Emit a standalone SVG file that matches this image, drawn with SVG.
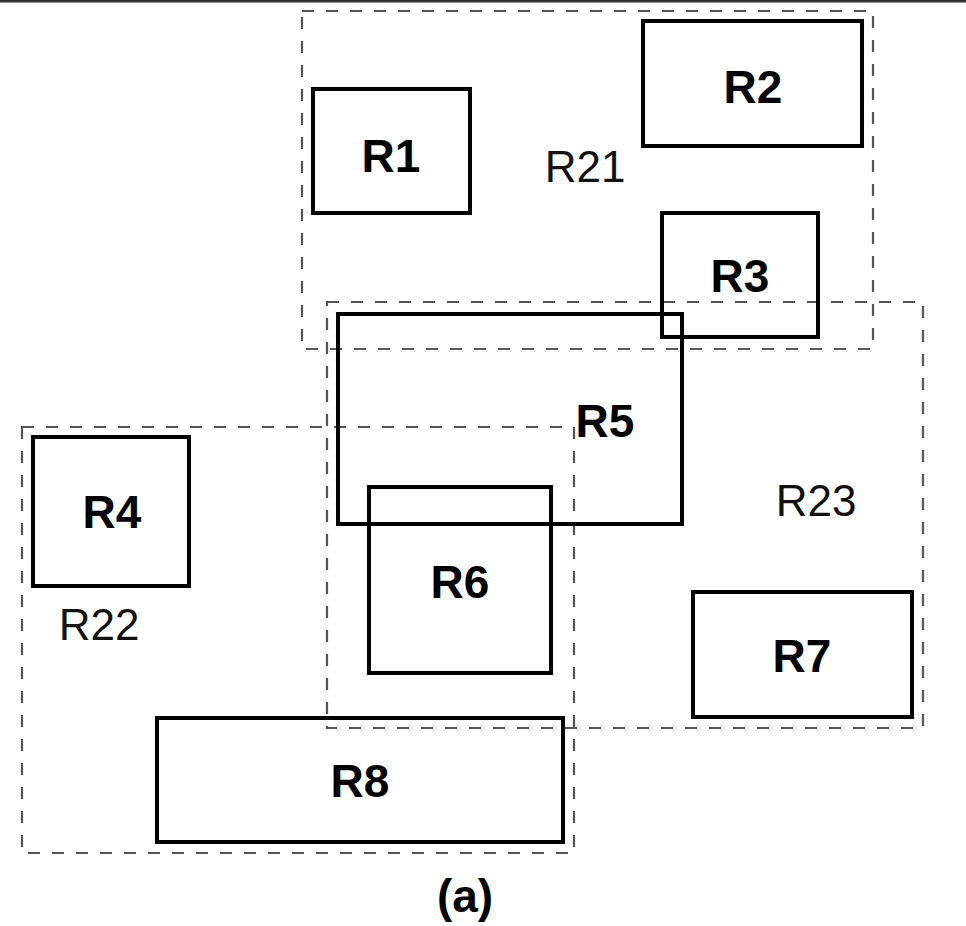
<svg xmlns="http://www.w3.org/2000/svg" width="966" height="926" viewBox="0 0 966 926">
<style>
.grp{fill:none;stroke:#555;stroke-width:2.2;stroke-dasharray:12 12}
.box{fill:none;stroke:#000;stroke-width:4}
.lb{font-family:"Liberation Sans",Arial,sans-serif;font-weight:bold;font-size:46px;fill:#000;text-anchor:middle}
.gl{font-family:"Liberation Sans",Arial,sans-serif;font-size:44px;fill:#111;text-anchor:middle}
</style>
<rect width="966" height="926" fill="#fff"/>
<line x1="0" y1="1" x2="966" y2="1" stroke="#333" stroke-width="3"/>
<g id="R21"><rect class="grp" x="302" y="11" width="571" height="338"/><text class="gl" x="585" y="182">R21</text></g>
<g id="R23"><rect class="grp" x="327" y="302" width="596" height="426"/><text class="gl" x="816" y="516">R23</text></g>
<g id="R22"><rect class="grp" x="22" y="427" width="552" height="426"/><text class="gl" x="99" y="640">R22</text></g>
<g id="R1"><rect class="box" x="313" y="89" width="157" height="124"/><text class="lb" x="391" y="172">R1</text></g>
<g id="R2"><rect class="box" x="643" y="21" width="219" height="125"/><text class="lb" x="753" y="103">R2</text></g>
<g id="R3"><rect class="box" x="662" y="213" width="156" height="124"/><text class="lb" x="740" y="292">R3</text></g>
<g id="R5"><rect class="box" x="338" y="314" width="344" height="210"/><text class="lb" x="605" y="437">R5</text></g>
<g id="R4"><rect class="box" x="33" y="437" width="156" height="149"/><text class="lb" x="112" y="528">R4</text></g>
<g id="R6"><rect class="box" x="369" y="487" width="182" height="186"/><text class="lb" x="460" y="598">R6</text></g>
<g id="R7"><rect class="box" x="693" y="592" width="219" height="125"/><text class="lb" x="802" y="672">R7</text></g>
<g id="R8"><rect class="box" x="157" y="718" width="406" height="124"/><text class="lb" x="360" y="797">R8</text></g>
<g id="connectors"></g>
<text class="lb" x="465" y="912" style="font-size:46px">(a)</text>
</svg>
